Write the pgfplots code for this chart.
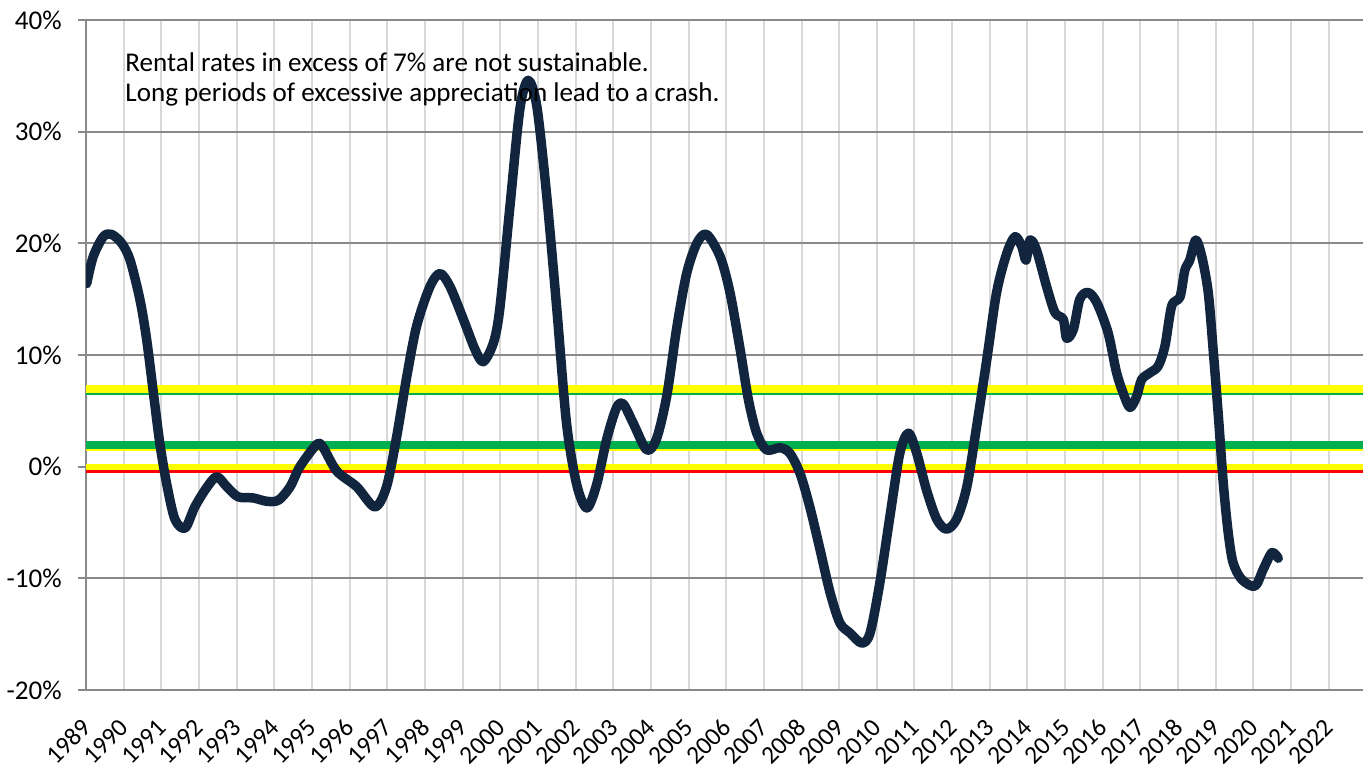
\documentclass[border=0pt]{standalone}
\usepackage{fontspec}
\setmainfont{Carlito}
\usepackage{pgfplots}
\pgfplotsset{compat=1.18}
\definecolor{navy}{RGB}{17,38,62}
\definecolor{xlgreen}{RGB}{0,176,80}
\definecolor{xlyellow}{RGB}{255,255,0}
\definecolor{xlred}{RGB}{255,0,0}
\definecolor{hgrid}{RGB}{137,137,137}
\definecolor{vgrid}{RGB}{217,217,217}
\begin{document}
\begin{tikzpicture}
\begin{axis}[
  scale only axis, width=957.75pt, height=502.5pt,
  xmin=1989, xmax=2022.91, ymin=-20, ymax=40,
  axis x line*=bottom, axis y line*=left,
  axis line style={draw=hgrid, line width=1.5pt},
  xtick={1989,1990,...,2022},
  xticklabels={1989,1990,1991,1992,1993,1994,1995,1996,1997,1998,1999,2000,2001,2002,2003,2004,2005,2006,2007,2008,2009,2010,2011,2012,2013,2014,2015,2016,2017,2018,2019,2020,2021,2022},
  ytick={-20,-10,0,10,20,30,40},
  yticklabels={-20\%,-10\%,0\%,10\%,20\%,30\%,40\%},
  grid=major,
  x grid style={draw=vgrid, line width=1.5pt},
  y grid style={draw=hgrid, line width=1.3pt},
  tick align=outside,
  major tick length=6pt,
  xtick style={draw=none},
  ytick style={draw=hgrid, line width=1.5pt},
  yticklabel style={font=\fontsize{20.3}{24}\selectfont, anchor=east, inner sep=0pt, xshift=-12pt},
  xticklabel style={font=\fontsize{19}{23}\selectfont, rotate=45, anchor=east, inner sep=0pt, xshift=-13.2pt, yshift=-13.7pt},
]
\addplot[draw=xlgreen, line width=2.2pt] coordinates {(1989,6.52) (2022.91,6.52)};
\addplot[draw=xlyellow, line width=5.7pt] coordinates {(1989,6.93) (2022.91,6.93)};
\addplot[draw=xlyellow, line width=2.2pt] coordinates {(1989,1.50) (2022.91,1.50)};
\addplot[draw=xlgreen, line width=5.5pt] coordinates {(1989,1.94) (2022.91,1.94)};
\addplot[draw=xlred, line width=2.0pt] coordinates {(1989,-0.44) (2022.91,-0.44)};
\addplot[draw=xlyellow, line width=5.0pt] coordinates {(1989,-0.03) (2022.91,-0.03)};
\addplot[draw=navy, line width=7.1pt, smooth, line join=round, line cap=round] coordinates {
(1989.02,16.4) (1989.19,18.8) (1989.46,20.6) (1989.68,20.8) (1989.95,20.0)
(1990.17,18.5) (1990.43,15.0) (1990.61,11.4) (1990.79,6.6) (1990.96,2.1)
(1991.14,-1.5) (1991.36,-4.7) (1991.63,-5.5) (1991.89,-3.6) (1992.20,-1.9)
(1992.47,-0.9) (1992.74,-1.8) (1993.04,-2.7) (1993.44,-2.8) (1993.80,-3.1)
(1994.11,-3.0) (1994.42,-1.8) (1994.68,0.0) (1995.13,2.0) (1995.30,1.7)
(1995.66,-0.4) (1996.19,-1.8) (1996.67,-3.6) (1996.98,-1.8) (1997.25,2.7)
(1997.52,8.1) (1997.78,12.6) (1998.13,16.1) (1998.40,17.3) (1998.67,16.1)
(1999.02,13.2) (1999.33,10.5) (1999.55,9.4) (1999.82,11.1) (1999.99,14.2)
(2000.26,23.4) (2000.52,32.0) (2000.74,34.6) (2000.97,32.3) (2001.23,24.4)
(2001.50,14.2) (2001.76,3.9) (2002.03,-1.6) (2002.30,-3.7) (2002.56,-1.6)
(2002.83,2.5) (2003.09,5.3) (2003.27,5.6) (2003.53,3.9) (2003.89,1.5)
(2004.15,2.5) (2004.42,6.3) (2004.69,12.5) (2004.95,17.3) (2005.22,20.0)
(2005.48,20.8) (2005.84,18.8) (2006.10,15.6) (2006.37,10.5) (2006.59,6.0)
(2006.81,3.0) (2007.07,1.5) (2007.43,1.7) (2007.69,1.2) (2007.96,-0.6)
(2008.22,-3.6) (2008.49,-7.4) (2008.76,-11.3) (2009.02,-14.0) (2009.29,-14.9)
(2009.60,-15.8) (2009.82,-14.9) (2010.08,-10.4) (2010.35,-4.4) (2010.61,1.2)
(2010.84,3.0) (2011.06,1.2) (2011.32,-2.1) (2011.59,-4.7) (2011.85,-5.6)
(2012.12,-4.7) (2012.39,-1.8) (2012.65,3.6) (2012.92,9.6) (2013.18,15.6)
(2013.45,19.1) (2013.67,20.6) (2013.85,19.7) (2013.96,18.5) (2014.07,20.3)
(2014.24,19.4) (2014.51,16.1) (2014.73,13.8) (2014.95,13.2) (2015.04,11.5)
(2015.22,12.3) (2015.39,15.0) (2015.61,15.6) (2015.84,14.7) (2016.14,12.0)
(2016.36,8.5) (2016.54,6.6) (2016.72,5.3) (2016.90,6.3) (2017.03,7.8)
(2017.25,8.4) (2017.47,9.0) (2017.65,10.8) (2017.83,14.4) (2018.05,15.2)
(2018.18,17.6) (2018.31,18.5) (2018.47,20.3) (2018.63,18.8) (2018.80,15.6)
(2018.93,10.5) (2019.07,4.5) (2019.20,-1.5) (2019.33,-5.9) (2019.46,-8.6)
(2019.69,-10.1) (2020.04,-10.7) (2020.26,-9.2) (2020.49,-7.7) (2020.66,-8.2)
};
\node[anchor=base west, inner sep=0pt, font=\fontsize{20.3}{24}\selectfont] at (axis cs:1990.04,35.36) {Rental rates in excess of 7\% are not sustainable.};
\node[anchor=base west, inner sep=0pt, font=\fontsize{20.3}{24}\selectfont] at (axis cs:1990.04,32.70) {Long periods of excessive appreciation lead to a crash.};
\end{axis}
\pgfresetboundingbox
\path (-64.5pt,-56.25pt) rectangle (957.75pt,517.5pt);
\end{tikzpicture}
\end{document}
